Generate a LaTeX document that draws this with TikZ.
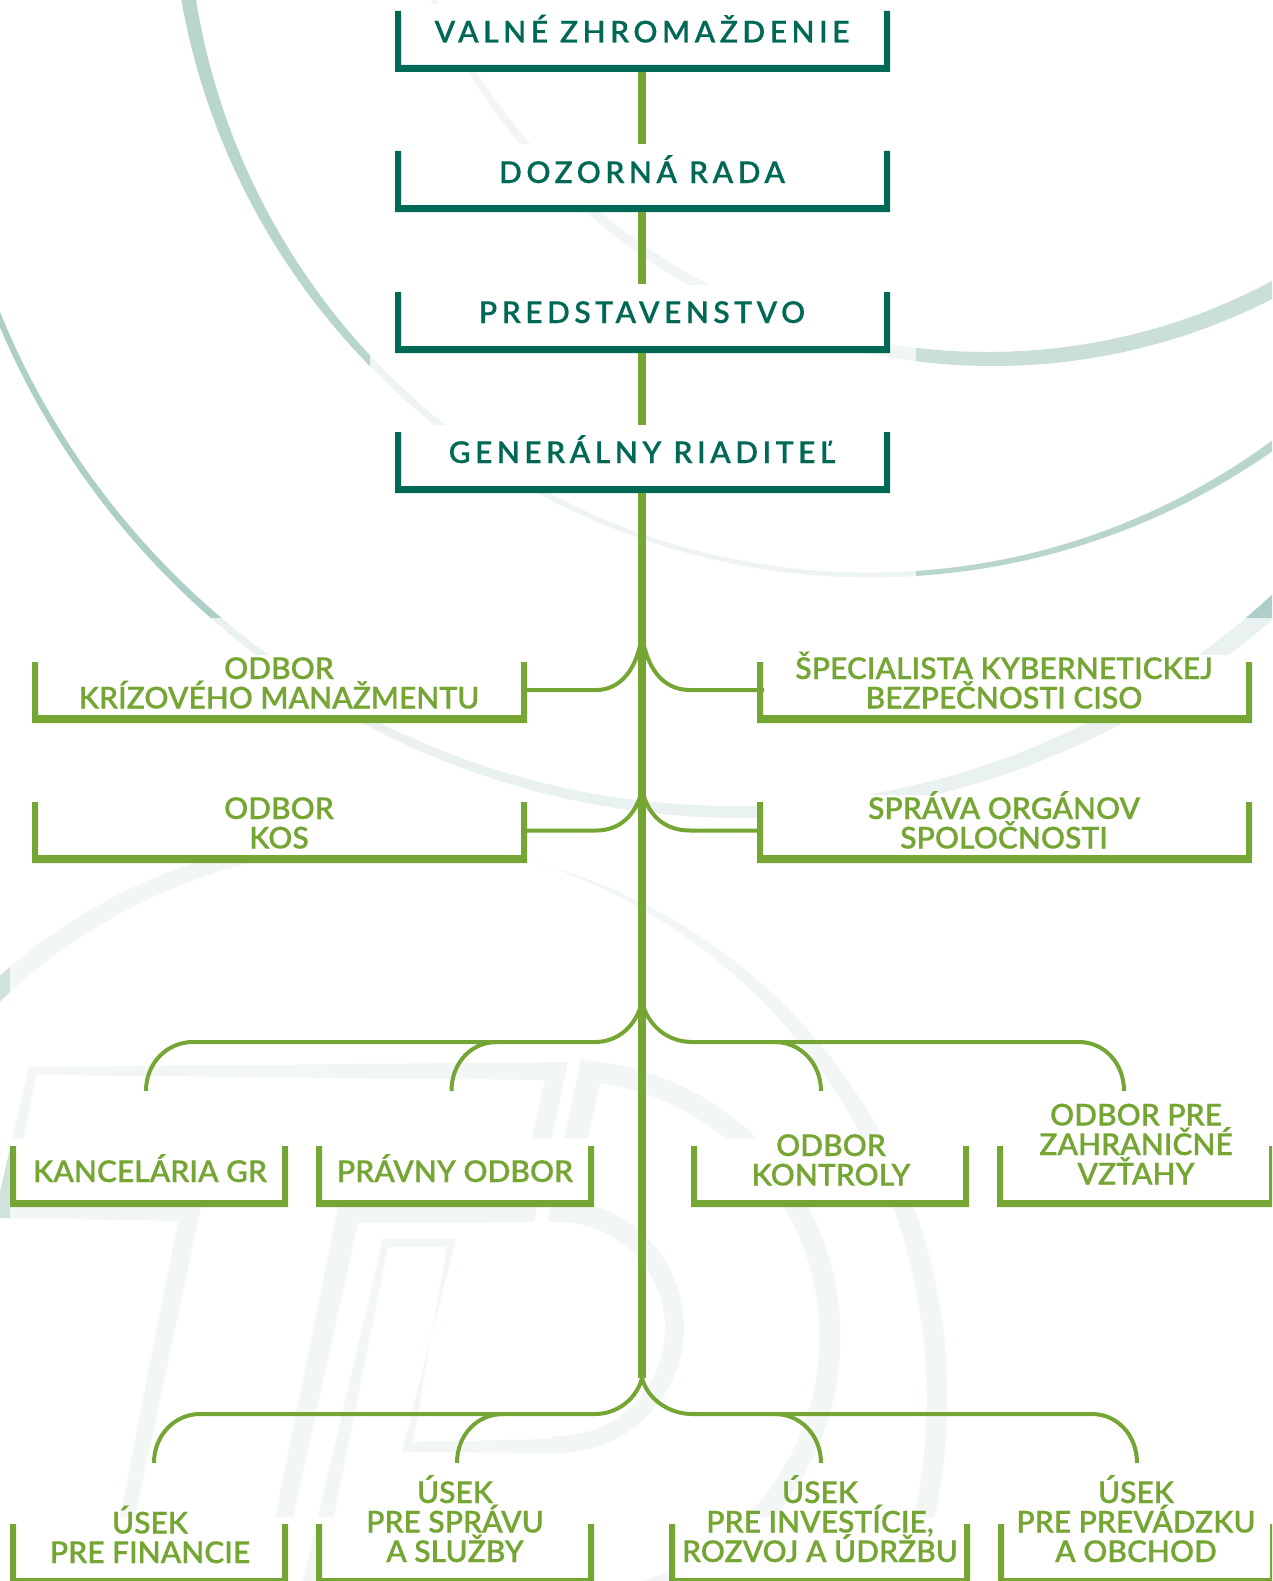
\documentclass[tikz,border=0pt]{standalone}
\usepackage{fontspec}
\setmainfont{Lato}
\newfontfamily\labfam{Lato Semibold}[FakeBold=0.3]
\newfontfamily\topfam{Lato Semibold}[LetterSpace=15,FakeBold=0.3]
\newcommand{\labelfont}{\labfam\fontsize{30}{29.5}\selectfont\lineskiplimit=-100pt\relax}
\newcommand{\topfont}{\topfam\fontsize{30}{29.7}\selectfont}
\definecolor{deep}{HTML}{006955}
\definecolor{leaf}{HTML}{75A633}
\definecolor{arcA}{HTML}{B8D5CE}
\definecolor{arcB}{HTML}{CADFD9}
\definecolor{arcC}{HTML}{AECFC8}
\definecolor{logo}{HTML}{CFE2DD}
\tikzset{
  labeltext/.style={font=\labelfont,text=leaf,align=center,inner sep=0pt,anchor=base},
  toptext/.style={font=\topfont,text=deep,align=center,inner sep=0pt,anchor=base},
  boxnode/.style={inner sep=0pt,outer sep=0pt},
  link/.style={draw=leaf,line width=8pt},
  branch/.style={draw=leaf,line width=4pt},
}
% name, x0, y0, x1, y1, colour, bottom thickness
\newcommand{\ubox}[7]{%
  \fill[white] (#2,#3-7) rectangle (#4,#5);
  \node[boxnode,minimum width={#4-#2},minimum height={#5-#3}] (#1) at ({(#2+#4)/2},{(#3+#5)/2}) {};
  \fill[#6] (#2,#3) -- (#2,#5) -- (#4,#5) -- (#4,#3) -- (#4-6,#3) -- (#4-6,#5-#7) -- (#2+6,#5-#7) -- (#2+6,#3) -- cycle;
}
% crescent between two circles: colour, cx1, cy1, r1, cx2, cy2, r2
\newcommand{\crescent}[7]{%
  \fill[#1,even odd rule] (#2,#3) circle[radius=#4] (#5,#6) circle[radius=#7];
}
\begin{document}
\begin{tikzpicture}[x=1pt,y=-1pt]
\useasboundingbox (0,0) rectangle (1272,1581);
\clip (0,0) rectangle (1272,1581);
\fill[white] (0,0) rectangle (1272,1581);
% background arcs (a: w0+a ux+b uy)
\crescent{arcA}{871.1}{-123.1}{700.5}{868.9}{-108.9}{681.5}
\crescent{arcB}{992.8}{-248.2}{614.2}{987.2}{-253.8}{605.8}
\crescent{arcC}{742.4}{11.3}{806.7}{733.6}{14.7}{791.3}
% logo: left and right parts of the large circle
\begin{scope}
  \clip (-10,800) rectangle (450,1100);
  \crescent{logo}{371.2}{1392.2}{558}{386.8}{1403.8}{558}
\end{scope}
\begin{scope}
  \clip (450,800) rectangle (1000,1600);
  \crescent{logo}{395}{1397}{552.4}{363}{1399}{563.6}
\end{scope}
% T outline
\fill[logo] (29,1067) -- (568,1062) -- (534,1222) -- (358,1223) -- (293,1517) -- (275,1517) -- (338,1207) -- (517,1200) -- (545,1080) -- (36,1075) -- cycle;
\fill[logo] (29,1067) -- (-2,1200) -- (-5,1218) -- (178,1221) -- (120,1517) -- (135,1517) -- (201,1207) -- (201,1190) -- (14,1190) -- (36,1075) -- cycle;
% inner outline
\fill[logo] (383,1239) -- (456,1239) -- (402,1452) -- (552,1453) -- (552,1439) -- (413,1442) -- (447,1247) -- (388,1247) -- (321,1581) -- (303,1581) -- cycle;
% D strokes
\begin{scope}
  \clip (552,1190) -- (700,1190) -- (700,1470) -- (552,1470) -- (548,1222) -- cycle;
  \crescent{logo}{558}{1327}{126}{558}{1329}{107}
\end{scope}
\fill[logo] (564,1138) -- (582,1056) -- (600,1084) -- (588,1138) -- cycle;
\begin{scope}
  \clip (582,1040) -- (900,1040) -- (900,1600) -- (540,1600) -- cycle;
  \crescent{logo}{563}{1337}{277.5}{563}{1337}{256.5}
\end{scope}
% veil
\fill[white,opacity=0.75] (370,0) -- (916,0) -- (916,618) -- (1272,618) -- (1272,1581) -- (10,1581) -- (10,618) -- (370,618) -- cycle;
% boxes
\ubox{b1}{395}{11}{890}{72}{deep}{7}
\ubox{b2}{395}{151}{890}{212}{deep}{7}
\ubox{b3}{395}{292}{890}{353}{deep}{7}
\ubox{b4}{395}{432}{890}{493}{deep}{7}
\ubox{a1}{32}{662}{527}{723}{leaf}{8}
\ubox{a2}{757}{662}{1252}{723}{leaf}{8}
\ubox{c1}{32}{802}{527}{863}{leaf}{8}
\ubox{c2}{757}{802}{1252}{863}{leaf}{8}
\ubox{d1}{10}{1146}{288}{1207}{leaf}{7}
\ubox{d2}{316}{1146}{594}{1207}{leaf}{7}
\ubox{d3}{691}{1146}{969}{1207}{leaf}{7}
\ubox{d4}{997}{1146}{1275}{1207}{leaf}{7}
\ubox{e1}{10}{1524}{288}{1585}{leaf}{7}
\ubox{e2}{316}{1524}{594}{1585}{leaf}{7}
\ubox{e3}{669}{1524}{970}{1585}{leaf}{7}
\ubox{e4}{998}{1524}{1276}{1585}{leaf}{7}
% connectors
\coordinate (ja) at (642,635);
\coordinate (jc) at (642,790);
\coordinate (jd) at (642,1002);
\coordinate (je) at (642,1378);
\coordinate (fd1) at (146,1091);
\coordinate (fd2) at (451.5,1091);
\coordinate (fd3) at (821,1091);
\coordinate (fd4) at (1124,1091);
\coordinate (fe1) at (154,1463);
\coordinate (fe2) at (457,1463);
\coordinate (fe3) at (821,1463);
\coordinate (fe4) at (1137,1463);
\draw[link] ([xshift=-0.5pt]b1.south) -- ([xshift=-0.5pt,yshift=7pt]b2.north);
\draw[link] ([xshift=-0.5pt]b2.south) -- ([xshift=-0.5pt,yshift=8pt]b3.north);
\draw[link] ([xshift=-0.5pt]b3.south) -- ([xshift=-0.5pt,yshift=7pt]b4.north);
\draw[link] ([xshift=-0.5pt]b4.south) -- (je);
\draw[branch] (ja) .. controls (637,670) and (620,690) .. (596,690) -- ([yshift=2.5pt]a1.east);
\draw[branch] (ja) .. controls (647,670) and (664,690) .. (690,690) -- ([xshift=7pt,yshift=2.5pt]a2.west);
\draw[branch] (jc) .. controls (636,815) and (620,830.5) .. (596,830.5) -- ([yshift=2pt]c1.east);
\draw[branch] (jc) .. controls (648,815) and (664,830.5) .. (690,830.5) -- ([yshift=2pt]c2.west);
\draw[branch] (jd) .. controls (636,1026) and (618,1042) .. (595,1042) -- (193,1042) .. controls (167,1042) and (146,1063) .. (fd1);
\draw[branch] (497,1042) .. controls (471,1042) and (451.5,1063) .. (fd2);
\draw[branch] (jd) .. controls (648,1026) and (668,1042) .. (692,1042) -- (1079,1042) .. controls (1104,1042) and (1124,1063) .. (fd4);
\draw[branch] (775,1042) .. controls (800,1042) and (821,1063) .. (fd3);
\draw[branch] (je) .. controls (637,1398) and (618,1414) .. (595,1414) -- (200,1414) .. controls (175,1414) and (154,1435) .. (fe1);
\draw[branch] (503,1414) .. controls (477,1414) and (457,1435) .. (fe2);
\draw[branch] (je) .. controls (647,1398) and (668,1414) .. (692,1414) -- (1092,1414) .. controls (1117,1414) and (1137,1435) .. (fe4);
\draw[branch] (775,1414) .. controls (800,1414) and (821,1435) .. (fe3);
% labels
\node[toptext] (tb1) at (642,42.5) {VALNÉ ZHROMAŽDENIE};
\node[toptext] (tb2) at (642,183) {DOZORNÁ RADA};
\node[toptext] (tb3) at (642,323) {PREDSTAVENSTVO};
\node[toptext] (tb4) at (642,463) {GENERÁLNY RIADITEĽ};
\node[labeltext] (ta1) at (279,708.5) {ODBOR\\KRÍZOVÉHO MANAŽMENTU};
\node[labeltext] (ta2) at (1004,708.5) {ŠPECIALISTA KYBERNETICKEJ\\BEZPEČNOSTI CISO};
\node[labeltext] (tc1) at (279,848.5) {ODBOR\\KOS};
\node[labeltext] (tc2) at (1004,848.5) {SPRÁVA ORGÁNOV\\SPOLOČNOSTI};
\node[labeltext] (td1) at (150,1182) {KANCELÁRIA GR};
\node[labeltext] (td2) at (455,1182) {PRÁVNY ODBOR};
\node[labeltext] (td3) at (831,1185.5) {ODBOR\\KONTROLY};
\node[labeltext] (td4) at (1136,1184.5) {ODBOR PRE\\ZAHRANIČNÉ\\VZŤAHY};
\node[labeltext] (te1) at (150,1563) {ÚSEK\\PRE FINANCIE};
\node[labeltext] (te2) at (455,1562) {ÚSEK\\PRE SPRÁVU\\A SLUŽBY};
\node[labeltext] (te3) at (820,1562) {ÚSEK\\PRE INVESTÍCIE,\\ROZVOJ A ÚDRŽBU};
\node[labeltext] (te4) at (1136,1562) {ÚSEK\\PRE PREVÁDZKU\\A OBCHOD};
\end{tikzpicture}
\end{document}
